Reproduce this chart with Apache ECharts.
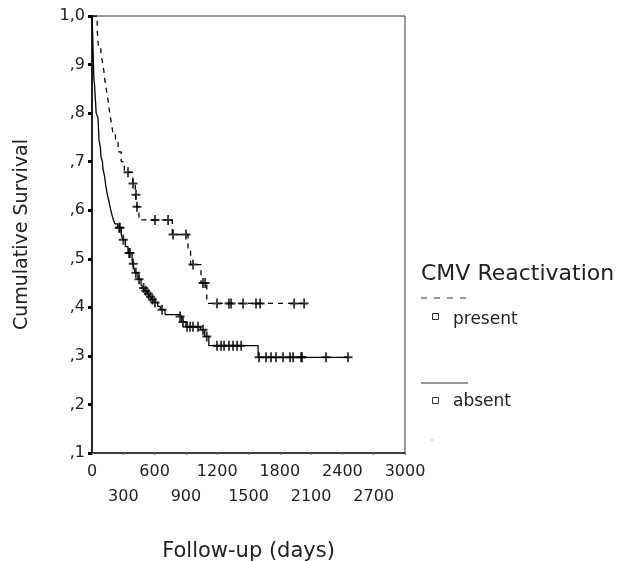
<!DOCTYPE html>
<html>
<head>
<meta charset="utf-8">
<script src="https://cdn.jsdelivr.net/npm/echarts@6/dist/echarts.min.js"></script>
<style>html,body{margin:0;padding:0;background:#fff;}#c{width:618px;height:561px;}</style>
</head>
<body>
<div id="c"></div>
<script>
// ---- data ----
var xTicks = [0, 300, 600, 900, 1200, 1500, 1800, 2100, 2400, 2700, 3000];
var yTicks = [0.1, 0.2, 0.3, 0.4, 0.5, 0.6, 0.7, 0.8, 0.9, 1.0];
var yTickLabels = [',1', ',2', ',3', ',4', ',5', ',6', ',7', ',8', ',9', '1,0'];

// CMV present: step events [day, survival]
var presentDays = [0, 50, 60, 85, 100, 115, 125, 140, 155, 170, 185, 200, 225, 250, 280, 310, 390, 415, 428, 450, 770, 920, 945, 1045, 1100];
var presentSurv = [1.0, 0.97, 0.94, 0.925, 0.905, 0.885, 0.865, 0.845, 0.825, 0.80, 0.78, 0.76, 0.74, 0.72, 0.70, 0.678, 0.655, 0.632, 0.607, 0.58, 0.55, 0.52, 0.488, 0.45, 0.408];
var presentCensored = [345, 393, 422, 431, 604, 729, 777, 901, 968, 1064, 1085, 1198, 1313, 1333, 1448, 1572, 1611, 1937, 2033];

// CMV absent: step events [day, survival]
var absentDays = [0, 3, 6, 10, 14, 18, 24, 29, 35, 40, 58, 62, 67, 80, 86, 100, 105, 120, 134, 144, 160, 173, 192, 205, 220, 245, 280, 297, 320, 345, 384, 390, 405, 412, 440, 470, 489, 508, 530, 550, 572, 595, 630, 655, 700, 835, 860, 900, 1040, 1080, 1120, 1592];
var absentSurv = [1.0, 0.98, 0.965, 0.93, 0.90, 0.87, 0.86, 0.84, 0.82, 0.80, 0.79, 0.77, 0.745, 0.73, 0.71, 0.70, 0.685, 0.67, 0.648, 0.635, 0.62, 0.607, 0.59, 0.58, 0.572, 0.564, 0.55, 0.539, 0.525, 0.512, 0.498, 0.49, 0.478, 0.471, 0.458, 0.447, 0.44, 0.434, 0.428, 0.422, 0.416, 0.41, 0.402, 0.395, 0.385, 0.381, 0.37, 0.36, 0.354, 0.34, 0.321, 0.297];
var absentCensored = [260, 268, 300, 355, 364, 395, 420, 451, 495, 515, 540, 560, 580, 604, 671, 844, 872, 911, 940, 968, 1016, 1064, 1100, 1198, 1237, 1266, 1313, 1352, 1390, 1430, 1601, 1668, 1716, 1764, 1831, 1898, 1927, 2004, 2013, 2243, 2454];

// ---- helpers ----
function survAt(days, surv, t) {
  var s = surv[0];
  for (var i = 0; i < days.length; i++) { if (days[i] <= t) s = surv[i]; }
  return s;
}
function stepLine(days, surv, cens) {
  var d = days.map(function (t, i) { return [t, surv[i]]; });
  var last = cens[cens.length - 1];
  d.push([last, survAt(days, surv, last)]);
  return d;
}
function censPts(days, surv, cens) {
  return cens.map(function (t) { return [t, survAt(days, surv, t)]; });
}

var plus = 'path://M4,0 H6 V4 H10 V6 H6 V10 H4 V6 H0 V4 H4 Z';
var FONT = 'DejaVu Sans';
var TXT = '#222';
var xMin = xTicks[0], xMax = xTicks[xTicks.length - 1];

var chart = echarts.init(document.getElementById('c'), null, { renderer: 'canvas' });
chart.setOption({
  animation: false,
  backgroundColor: '#fff',
  grid: { left: 92, top: 16, width: 313, height: 437, containLabel: false, outerBoundsMode: 'none', show: true, borderColor: '#333', borderWidth: 1, backgroundColor: 'transparent' },
  xAxis: [
    {
      type: 'value', min: xMin, max: xMax, interval: 600, position: 'bottom',
      name: 'Follow-up (days)', nameLocation: 'middle', nameGap: 88,
      nameTextStyle: { fontFamily: FONT, fontSize: 21, color: TXT },
      axisLine: { onZero: false, lineStyle: { color: '#222', width: 1.5 } },
      axisTick: { show: false },
      splitLine: { show: false },
      axisLabel: {
        fontFamily: FONT, fontSize: 16, color: TXT, margin: 11, showMaxLabel: true, showMinLabel: true,
        formatter: function (v) { return '' + v; }
      }
    },
    {
      type: 'value', min: xMin, max: xMax, interval: 300, position: 'bottom',
      axisLine: { show: false, onZero: false },
      axisTick: { show: true, length: 2, lineStyle: { color: '#777', width: 1 } },
      splitLine: { show: false },
      axisLabel: {
        fontFamily: FONT, fontSize: 16, color: TXT, margin: 36, showMaxLabel: true, showMinLabel: true,
        formatter: function (v) { return (Math.round(v / 300) % 2 === 1) ? '' + v : ''; }
      }
    }
  ],
  yAxis: {
    type: 'value', min: yTicks[0], max: yTicks[yTicks.length - 1], interval: 0.1,
    name: 'Cumulative Survival', nameLocation: 'middle', nameGap: 60,
    nameTextStyle: { fontFamily: FONT, fontSize: 19, color: TXT },
    axisLine: { onZero: false, lineStyle: { color: '#222', width: 2 } },
    axisTick: { show: true, length: 4, lineStyle: { color: '#000', width: 3 } },
    splitLine: { show: false },
    axisLabel: {
      fontFamily: FONT, fontSize: 16, color: TXT, margin: 7,
      formatter: function (v) {
        var idx = Math.round(v * 10) - 1;
        return yTickLabels[idx] !== undefined ? yTickLabels[idx] : '';
      }
    }
  },
  series: [
    {
      name: 'present', type: 'line', step: 'end', showSymbol: false, symbol: 'none', xAxisIndex: 0,
      data: stepLine(presentDays, presentSurv, presentCensored),
      lineStyle: { color: '#000', width: 1.3, type: [5, 5] }, z: 3
    },
    {
      name: 'absent', type: 'line', step: 'end', showSymbol: false, symbol: 'none', xAxisIndex: 0,
      data: stepLine(absentDays, absentSurv, absentCensored),
      lineStyle: { color: '#000', width: 1.3 }, z: 3
    },
    {
      name: 'present censored', type: 'scatter', symbol: plus, symbolSize: [9, 10], xAxisIndex: 0,
      data: censPts(presentDays, presentSurv, presentCensored),
      itemStyle: { color: '#000' }, z: 4
    },
    {
      name: 'absent censored', type: 'scatter', symbol: plus, symbolSize: [9, 10], xAxisIndex: 0,
      data: censPts(absentDays, absentSurv, absentCensored),
      itemStyle: { color: '#000' }, z: 4
    }
  ],
  graphic: [
    { type: 'text', style: { x: 421, y: 274, text: 'CMV Reactivation', font: '22px "DejaVu Sans"', fill: TXT, textVerticalAlign: 'middle', verticalAlign: 'middle' } },
    { type: 'line', shape: { x1: 421, y1: 298, x2: 468, y2: 298 }, style: { stroke: '#333', lineWidth: 1, lineDash: [6, 7] } },
    { type: 'rect', shape: { x: 432.5, y: 313.5, width: 6, height: 6 }, style: { fill: '#fff', stroke: '#333', lineWidth: 1 } },
    { type: 'text', style: { x: 453, y: 320, text: 'present', font: '17px "DejaVu Sans"', fill: TXT, textVerticalAlign: 'middle', verticalAlign: 'middle' } },
    { type: 'line', shape: { x1: 421, y1: 383, x2: 468, y2: 383 }, style: { stroke: '#333', lineWidth: 1.2 } },
    { type: 'rect', shape: { x: 432.5, y: 397.5, width: 6, height: 6 }, style: { fill: '#fff', stroke: '#333', lineWidth: 1 } },
    { type: 'text', style: { x: 453, y: 402, text: 'absent', font: '17px "DejaVu Sans"', fill: TXT, textVerticalAlign: 'middle', verticalAlign: 'middle' } },
    { type: 'circle', shape: { cx: 432, cy: 440, r: 0.8 }, style: { fill: '#999' } }
  ]
});
</script>
</body>
</html>
